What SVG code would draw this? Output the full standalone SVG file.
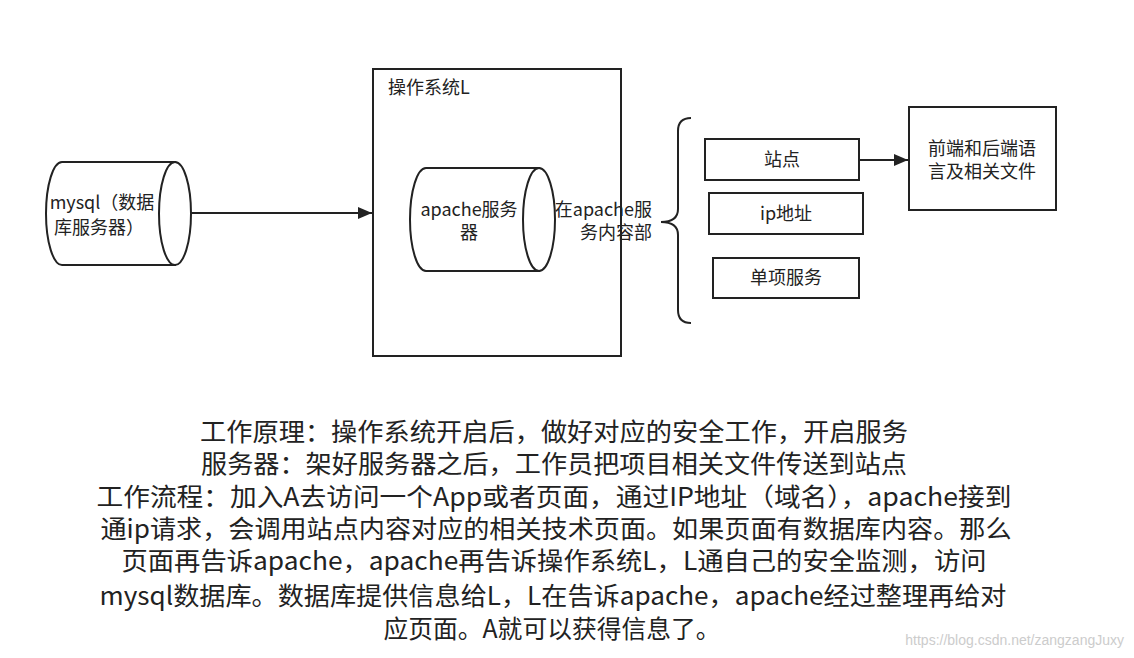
<svg xmlns="http://www.w3.org/2000/svg" width="1134" height="658" viewBox="0 0 1134 658">
<style>
.s{fill:#fff;stroke:#222;stroke-width:2}
.ln{fill:none;stroke:#222;stroke-width:2}
.t{font-family:"Noto Sans CJK SC","Noto Sans",sans-serif;font-size:18px;fill:#222}
.b{font-family:"Noto Sans CJK SC","Noto Sans",sans-serif;font-size:25px;fill:#222;text-anchor:middle}
.m{text-anchor:middle}
</style>
<defs>
<marker id="ah" markerWidth="14" markerHeight="12" refX="14" refY="6" orient="auto" markerUnits="userSpaceOnUse">
<path d="M0,0 L14,6 L0,12 Z" fill="#222"/>
</marker>
</defs>
<rect width="1134" height="658" fill="#fff"/>
<g id="connectors">
<line class="ln" x1="191" y1="213" x2="372" y2="213" marker-end="url(#ah)"/>
<line class="ln" x1="859" y1="160" x2="908" y2="160" marker-end="url(#ah)"/>
<path class="ln" d="M691,118 Q678,118 678,131 L678,209 Q678,222 661,222 Q678,222 678,235 L678,310 Q678,323 691,323"/>
</g>
<g id="os">
<rect class="s" x="373" y="69" width="248" height="287"/>
<text class="t" x="388" y="94">操作系统L</text>
</g>
<g id="mysql">
<path class="s" d="M62,162 L175,162 L175,265 L62,265 A16,51.5 0 0 1 62,162 Z"/>
<ellipse class="s" cx="175" cy="213.5" rx="16" ry="51.5"/>
<text class="t m" x="102" y="209">mysql（数据</text>
<text class="t m" x="99" y="234">库服务器）</text>
</g>
<g id="apache">
<path class="s" d="M426,168 L539,168 L539,271 L426,271 A16,51.5 0 0 1 426,168 Z"/>
<ellipse class="s" cx="539" cy="219.5" rx="16" ry="51.5"/>
<text class="t m" x="469" y="216">apache服务</text>
<text class="t m" x="469" y="239">器</text>
</g>
<g id="apache-label">
<text class="t" x="652" y="216" text-anchor="end">在apache服</text>
<text class="t" x="652" y="239" text-anchor="end">务内容部</text>
</g>
<g id="site">
<rect class="s" x="705" y="139" width="154" height="41"/>
<text class="t m" x="782" y="166">站点</text>
</g>
<g id="ip">
<rect class="s" x="709" y="193" width="154" height="41"/>
<text class="t m" x="786" y="220">ip地址</text>
</g>
<g id="single">
<rect class="s" x="713" y="258" width="146" height="40"/>
<text class="t m" x="786" y="284">单项服务</text>
</g>
<g id="files">
<rect class="s" x="909" y="107" width="147" height="103"/>
<text class="t m" x="982" y="155">前端和后端语</text>
<text class="t m" x="982" y="178">言及相关文件</text>
</g>
<g id="notes">
<text class="b" x="554" y="441" textLength="708" lengthAdjust="spacingAndGlyphs">工作原理：操作系统开启后，做好对应的安全工作，开启服务</text>
<text class="b" x="554" y="473" textLength="706" lengthAdjust="spacingAndGlyphs">服务器：架好服务器之后，工作员把项目相关文件传送到站点</text>
<text class="b" x="554" y="506" textLength="915" lengthAdjust="spacingAndGlyphs">工作流程：加入A去访问一个App或者页面，通过IP地址（域名），apache接到</text>
<text class="b" x="556" y="538" textLength="911" lengthAdjust="spacingAndGlyphs">通ip请求，会调用站点内容对应的相关技术页面。如果页面有数据库内容。那么</text>
<text class="b" x="554" y="570" textLength="865" lengthAdjust="spacingAndGlyphs">页面再告诉apache，apache再告诉操作系统L，L通自己的安全监测，访问</text>
<text class="b" x="553" y="605" textLength="907" lengthAdjust="spacingAndGlyphs">mysql数据库。数据库提供信息给L，L在告诉apache，apache经过整理再给对</text>
<text class="b" x="552" y="638" textLength="337" lengthAdjust="spacingAndGlyphs">应页面。A就可以获得信息了。</text>
</g>
<text x="1124" y="645" text-anchor="end" font-family="Liberation Sans,sans-serif" font-size="14" fill="#ccc">https://blog.csdn.net/zangzangJuxy</text>
</svg>
